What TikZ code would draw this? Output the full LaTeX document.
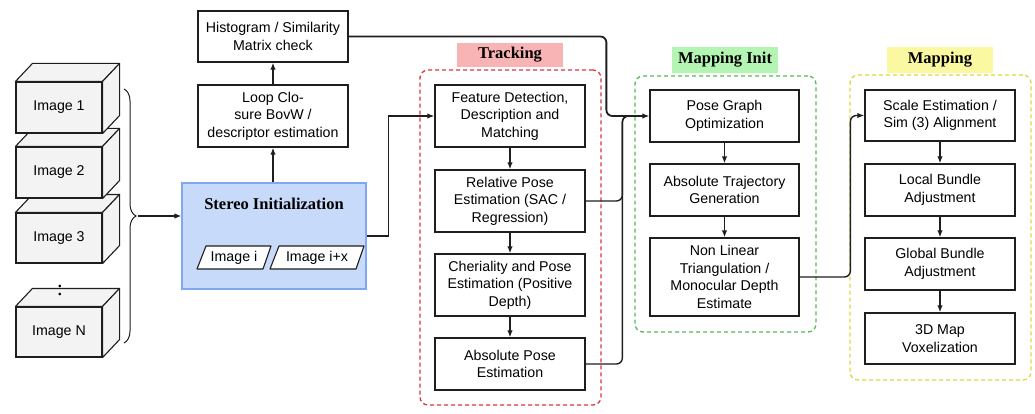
\documentclass[tikz,border=0pt]{standalone}
\usepackage{fontspec}
\setmainfont{Liberation Serif}
\setsansfont{Liberation Sans}
\usetikzlibrary{arrows.meta,decorations.pathreplacing,calc}
\definecolor{stfill}{HTML}{C8DAF9}
\definecolor{stdraw}{HTML}{80A8EC}
\definecolor{cubefill}{HTML}{F3F3F3}
\definecolor{trred}{HTML}{D9343F}
\definecolor{trfill}{HTML}{F8B4B4}
\definecolor{migreen}{HTML}{55BB55}
\definecolor{mifill}{HTML}{B5F5B3}
\definecolor{mpyel}{HTML}{DDD838}
\definecolor{mpfill}{HTML}{FBF8A2}
\definecolor{ink}{HTML}{1E1E1E}
\begin{document}
\begin{tikzpicture}[x=1pt,y=-1pt,
  box/.style={draw=ink, line width=1.25pt, fill=white, inner sep=0pt, align=center,
    font=\sffamily\fontsize{14.2}{17.6}\selectfont},
  cube/.style={draw=ink, line width=1.1pt, fill=cubefill, inner sep=0pt,
    minimum width=86pt, font=\sffamily\fontsize{14.2}{17.6}\selectfont},
  cubeside/.style={draw=ink, line width=1.1pt, fill=cubefill, line join=round},
  conn/.style={draw=ink, line width=1.4pt, -{Latex[length=7pt,width=5.5pt]}},
  plain/.style={draw=ink, line width=1.4pt},
  region/.style={line width=1.3pt, dashed, dash pattern=on 4pt off 3pt, rounded corners=8pt, inner sep=0pt},
  grouplabel/.style={inner sep=0pt, font=\bfseries\fontsize{16.5}{19}\selectfont},
  para/.style={draw=ink, line width=1.1pt, fill=white, line join=round}
]
\useasboundingbox (0,0) rectangle (1035,414);

% ---------- image cubes ----------
\foreach \nm/\cy/\h/\txt in {imN/332/50/Image N, im3/238/50/Image 3, im2/172.5/51/Image 2, im1/107.5/51/Image 1}{
  \node[cube, minimum height=\h pt] (\nm) at (59,\cy) {\txt};
  \path[cubeside] (\nm.north west) -- ++(17,-18) -- ($(\nm.north east)+(17,-18)$) -- (\nm.north east) -- cycle;
  \path[cubeside] (\nm.north east) -- ++(17,-18) -- ($(\nm.south east)+(17,-18)$) -- (\nm.south east) -- cycle;
}
\node[inner sep=0pt, font=\fontsize{22}{22}\selectfont] (dots) at (60,290) {:};

% brace
\draw[ink, line width=1pt, decorate, decoration={brace, amplitude=12pt}] (124,89) -- (124,343);
\coordinate (bt) at (138,216);

% ---------- stereo initialization ----------
\node[draw=stdraw, line width=1.1pt, fill=stfill, minimum width=184pt, minimum height=106pt, inner sep=0pt] (stereo) at (274,236) {};
\node[grouplabel] (sttitle) at (274,204) {Stereo Initialization};
\path[para] (197,269) -- (206,246) -- (271,246) -- (263,269) -- cycle;
\path[para] (270,269) -- (279,246) -- (364,246) -- (356,269) -- cycle;
\node[inner sep=0pt, font=\sffamily\fontsize{14.2}{17.6}\selectfont] (imi) at (234,257.5) {Image i};
\node[inner sep=0pt, font=\sffamily\fontsize{14.2}{17.6}\selectfont] (imix) at (317,257.5) {Image i+x};

\node[box, minimum width=150pt, minimum height=62pt] (loop) at (273,116) {Loop Clo-\\sure BovW /\\descriptor estimation};
\node[box, minimum width=150pt, minimum height=51pt] (hist) at (273,36.5) {Histogram / Similarity\\Matrix check};

% ---------- regions ----------
\node[region, draw=trred, minimum width=181pt, minimum height=335pt] (track) at (510.5,237.5) {};
\node[grouplabel, fill=trfill, minimum width=106pt, minimum height=24pt] (trackl) at (510,55) {Tracking};
\node[region, draw=migreen, minimum width=181pt, minimum height=256pt] (minit) at (725.5,204) {};
\node[grouplabel, fill=mifill, minimum width=106pt, minimum height=26pt] (minitl) at (725,60) {Mapping Init};
\node[region, draw=mpyel, minimum width=181pt, minimum height=305pt] (mapr) at (940.5,227.5) {};
\node[grouplabel, fill=mpfill, minimum width=106pt, minimum height=26pt] (mapl) at (940,60) {Mapping};

% ---------- tracking ----------
\node[box, minimum width=150pt, minimum height=62pt] (fd) at (510,116) {Feature Detection,\\Description and\\Matching};
\node[box, minimum width=150pt, minimum height=62pt] (rel) at (510,201) {Relative Pose\\Estimation (SAC /\\Regression)};
\node[box, minimum width=150pt, minimum height=62pt] (cher) at (510,285) {Cheriality and Pose\\Estimation (Positive\\Depth)};
\node[box, minimum width=150pt, minimum height=52pt] (abs) at (510,364) {Absolute Pose\\Estimation};

% ---------- mapping init ----------
\node[box, minimum width=149pt, minimum height=52pt] (pg) at (724.5,116) {Pose Graph\\Optimization};
\node[box, minimum width=149pt, minimum height=52pt] (atg) at (724.5,190) {Absolute Trajectory\\Generation};
\node[box, minimum width=149pt, minimum height=78pt] (nl) at (724.5,277) {Non Linear\\Triangulation /\\Monocular Depth\\Estimate};

% ---------- mapping ----------
\node[box, minimum width=150pt, minimum height=51pt] (sc) at (940,115.5) {Scale Estimation /\\Sim (3) Alignment};
\node[box, minimum width=150pt, minimum height=52pt] (lba) at (940,190) {Local Bundle\\Adjustment};
\node[box, minimum width=150pt, minimum height=52pt] (gba) at (940,264) {Global Bundle\\Adjustment};
\node[box, minimum width=150pt, minimum height=51pt] (vox) at (940,338.5) {3D Map\\Voxelization};

% ---------- connectors ----------
\draw[conn] (bt) -- (bt -| stereo.west);
\draw[conn] (stereo.north -| loop.south) -- (loop.south);
\draw[conn] (loop.north) -- (hist.south);
\draw[conn] (stereo.east) -- ++(22,0) |- (fd.west);
\draw[conn] (fd.south) -- (rel.north);
\draw[conn] (rel.south) -- (cher.north);
\draw[conn] (cher.south) -- (abs.north);
\draw[conn] (pg.south) -- (atg.north);
\draw[conn] (atg.south) -- (nl.north);
\draw[conn] (sc.south) -- (lba.north);
\draw[conn] (lba.south) -- (gba.north);
\draw[conn] (gba.south) -- (vox.north);

\coordinate (hc) at ($(pg.west)+(-43,0)$);
\coordinate (jc) at ($(pg.west)+(-27,0)$);
\draw[conn, line width=1.8pt, rounded corners=6pt] (hist.east) -| (hc) -- (pg.west);
\draw[plain, rounded corners=6pt] (rel.east) -| (jc) -- ++(10,0);
\draw[plain, rounded corners=6pt] (abs.east) -| (jc) -- ++(10,0);
\coordinate (mc) at ($(sc.west)+(-14,0)$);
\draw[conn, rounded corners=6pt] (nl.east) -| (mc) -- (sc.west);
\end{tikzpicture}
\end{document}
